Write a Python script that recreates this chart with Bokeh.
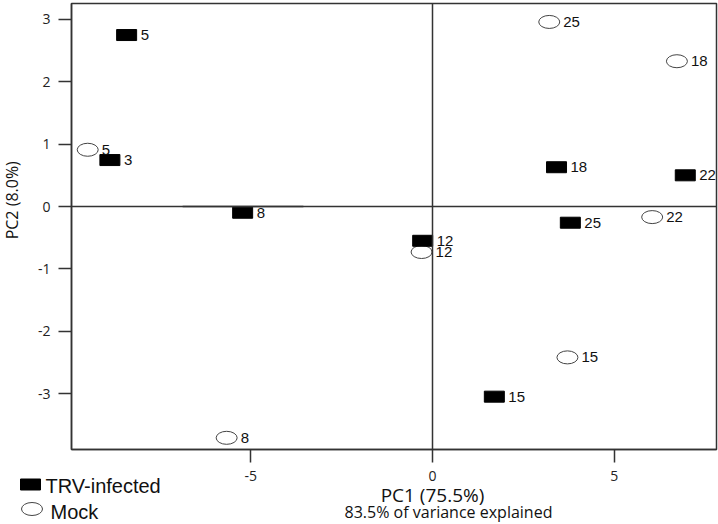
import math
from bokeh.plotting import figure
from bokeh.layouts import column, row
from bokeh.models import Range1d, ColumnDataSource, FixedTicker, Span
from bokeh.embed import file_html
from bokeh.resources import INLINE
from bokeh.core.properties import value

# ---- data ----
trv_x = [-8.41, -8.87, -5.22, -0.27, 1.70, 3.41, 6.95, 3.79]
trv_y = [2.75, 0.745, -0.10, -0.55, -3.05, 0.63, 0.50, -0.26]
trv_lab = ["5", "3", "8", "12", "15", "18", "22", "25"]

mock_x = [-9.48, -5.66, -0.30, 3.71, 6.72, 6.04, 3.21]
mock_y = [0.91, -3.71, -0.73, -2.42, 2.33, -0.17, 2.96]
mock_lab = ["5", "8", "12", "15", "18", "22", "25"]

x_ticks = [-5, 0, 5]
y_ticks = [-3, -2, -1, 0, 1, 2, 3]

gray_seg_x = [-6.87, -3.55]

x_title = "PC1 (75.5%)"
y_title = "PC2 (8.0%)"
subtitle = "83.5% of variance explained"
series_names = ["TRV-infected", "Mock"]

AX = "#333333"
TXT = "#111111"
TICK_FONT = "Open Sans"
PT_FONT = "Liberation Sans"

W, H = 718, 524
XS = 36.37          # px per PC1 unit
YS = 62.35          # px per PC2 unit
X0_PX, Y0_PX = 432, 206   # pixel position of the origin
FRAME_L, FRAME_R, FRAME_T, FRAME_B = 71, 716, 3, 449
YL_W = 22           # width of the strip that holds the y title
TOP_H = 465         # main plot: frame + tick marks


def xd(px):
    return (px - X0_PX) / XS


def yd(px):
    return (Y0_PX - px) / YS


def style_axis(ax):
    ax.axis_line_color = AX
    ax.axis_line_width = 1.5
    ax.major_tick_line_color = AX
    ax.major_tick_line_width = 1.5
    ax.major_tick_out = 13
    ax.major_tick_in = 0
    ax.minor_tick_line_color = None
    ax.major_label_text_font = TICK_FONT
    ax.major_label_text_font_size = "14px"
    ax.major_label_text_color = "#222222"


# ---------- main plot ----------
p = figure(width=W - YL_W, height=TOP_H, output_backend="svg", toolbar_location=None,
           x_range=Range1d(xd(FRAME_L), xd(FRAME_R)), y_range=Range1d(yd(FRAME_B), yd(FRAME_T)),
           min_border_left=FRAME_L - YL_W, min_border_right=W - FRAME_R,
           min_border_top=FRAME_T, min_border_bottom=TOP_H - FRAME_B)
p.grid.visible = False
p.outline_line_color = AX
p.outline_line_width = 1.5
style_axis(p.xaxis[0])
style_axis(p.yaxis[0])
# x axis of the main plot: tick marks only (tick labels are on the strip below)
p.xaxis.ticker = FixedTicker(ticks=[], minor_ticks=x_ticks)
p.xaxis.minor_tick_line_color = AX
p.xaxis.minor_tick_line_width = 1.5
p.xaxis.minor_tick_out = 13
p.xaxis.minor_tick_in = 0
p.xaxis.major_label_standoff = 0
p.yaxis.ticker = FixedTicker(ticks=y_ticks)
p.yaxis.major_label_overrides = {t: str(t) for t in y_ticks}
p.yaxis.major_label_standoff = 8

p.line(gray_seg_x, [0, 0], line_color="#c8c8c8", line_width=3)
p.add_layout(Span(location=0, dimension="width", line_color=AX, line_width=1.5))
p.add_layout(Span(location=0, dimension="height", line_color=AX, line_width=1.5))

trv_src = ColumnDataSource(dict(x=trv_x, y=trv_y, t=trv_lab))
mock_src = ColumnDataSource(dict(x=mock_x, y=mock_y, t=mock_lab))

p.ellipse("x", "y", width=21, height=13, width_units="screen", height_units="screen",
          source=mock_src, fill_color="white", line_color="#444444", line_width=1)
p.rect("x", "y", width=20, height=11, width_units="screen", height_units="screen",
       source=trv_src, fill_color="black", line_color="black")
for src in (trv_src, mock_src):
    p.text("x", "y", text="t", source=src, x_offset=14, text_baseline="middle",
           text_font=value(PT_FONT), text_font_size="15px", text_color=TXT)

# ---------- y title strip (same vertical frame as the main plot) ----------
py = figure(width=YL_W, height=TOP_H, output_backend="svg", toolbar_location=None,
            x_range=Range1d(0, 1), y_range=Range1d(yd(FRAME_B), yd(FRAME_T)),
            min_border_left=0, min_border_right=0, min_border_top=FRAME_T,
            min_border_bottom=TOP_H - FRAME_B, outline_line_color=None)
py.axis.visible = False
py.grid.visible = False
py.text(x=[0.5], y=[0.1], text=[y_title], angle=math.pi / 2, text_align="center",
        text_baseline="middle", text_font=value(TICK_FONT), text_font_size="16px",
        text_color=TXT)

# ---------- bottom strip: x tick labels, x titles and legend ----------
BH = H - TOP_H
pb = figure(width=W, height=BH, output_backend="svg", toolbar_location=None,
            x_range=Range1d(xd(0), xd(W)), y_range=Range1d(H, TOP_H),   # y in page pixels
            min_border=0, outline_line_color=None)
pb.axis.visible = False
pb.grid.visible = False

# tick labels of PC1, placed through the same x scale as the main plot
pb.text(x=x_ticks, y=[475.5] * len(x_ticks), text=[str(t) for t in x_ticks],
        text_align="center", text_baseline="middle", text_font=value(TICK_FONT),
        text_font_size="14px", text_color="#222222")

pb.text(x=[0], y=[494], text=[x_title], text_align="center", text_baseline="middle",
        text_font=value(TICK_FONT), text_font_size="19px", text_color=TXT)
pb.text(x=[xd(448)], y=[511], text=[subtitle], text_align="center", text_baseline="middle",
        text_font=value(TICK_FONT), text_font_size="16px", text_color=TXT)

# legend
pb.rect(x=[xd(30)], y=[484], width=20, height=11, width_units="screen",
        height_units="screen", fill_color="black", line_color="black")
pb.ellipse(x=[xd(31.5)], y=[508.5], width=21, height=13, width_units="screen",
           height_units="screen", fill_color="white", line_color="#444444", line_width=1)
pb.text(x=[xd(45), xd(50)], y=[485.5, 511], text=series_names, text_align="left",
        text_baseline="middle", text_font=value(PT_FONT), text_font_size="20px",
        text_color=TXT)

layout = column(row(py, p, spacing=0), pb, spacing=0)
open("out.html", "w").write(file_html(layout, INLINE))
